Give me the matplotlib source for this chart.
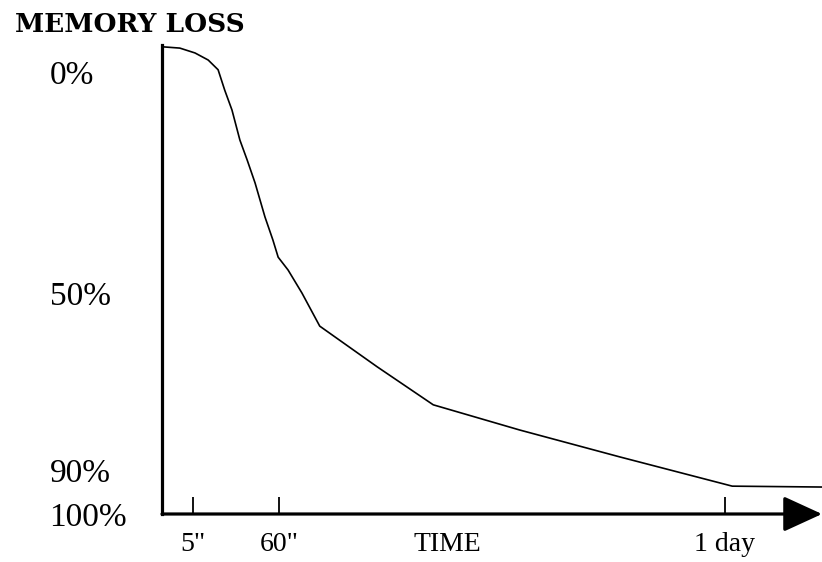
import matplotlib
matplotlib.use("Agg")
import matplotlib.pyplot as plt

# forgetting curve (x: 0-100 along the time axis, y: % loss)
time_pos = [0, 2.7, 5.0, 7.0, 8.5, 9.5, 10.6, 11.8, 12.9, 14.1, 15.6, 16.8,
            17.6, 19.1, 21.2, 23.9, 32.6, 41.1, 54.2, 69.4, 86.4, 100]
loss_pct = [-5.7, -5.4, -4.3, -2.7, -0.5, 4.1, 8.6, 15.4, 19.9, 25.1, 32.8,
            38.0, 41.9, 44.8, 50.0, 57.5, 66.7, 75.3, 81.0, 87.1, 93.7, 93.9]

y_ticks = [0, 50, 90, 100]
y_labels = ["0%", "50%", "90%", "100%"]
x_ticks = [4.7, 17.7, 85.3]
x_labels = ['5"', '60"', "1 day"]
x_title_pos = 43.2

W, H = 822, 562
fig = plt.figure(figsize=(W / 100, H / 100), dpi=100)
ax = fig.add_axes([162 / W, (H - 514) / H, (W - 162) / W, (514 - 45) / H])

ax.plot(time_pos, loss_pct, color="black", lw=1.2, clip_on=False)
ax.set_xlim(0, 100)
ax.set_ylim(100, -6.1)

for side in ["top", "right", "bottom"]:
    ax.spines[side].set_visible(False)
ax.spines["left"].set_linewidth(2.3)

# x axis with arrow head
ax.annotate("", xy=(1.0, 0), xytext=(0, 0), xycoords="axes fraction",
            arrowprops=dict(arrowstyle="-|>,head_length=1.2,head_width=0.55",
                            mutation_scale=20, lw=2.3, color="black",
                            shrinkA=0, shrinkB=0),
            annotation_clip=False)

y_font = dict(family="Liberation Serif", size=24)
x_font = dict(family="Liberation Serif", size=20)

ax.set_yticks(y_ticks)
ax.set_yticklabels(y_labels, fontdict=y_font)
ax.tick_params(axis="y", length=0, pad=81)
for t in ax.get_yticklabels():
    t.set_ha("left")
    t.set_va("center_baseline")

ax.set_xticks(x_ticks)
ax.set_xticklabels(x_labels, fontdict=x_font)
ax.tick_params(axis="x", direction="in", length=12, width=1.3, pad=22)
for t in ax.get_xticklabels():
    t.set_va("center")

ax.text(x_title_pos, 107.0, "TIME", ha="center", va="center",
        fontdict=dict(family="Liberation Serif", size=20))

fig.text(15 / W, 1 - 25 / H, "MEMORY LOSS", ha="left", va="center",
         family="DejaVu Serif", weight="bold", size=19)

fig.savefig("out.png", dpi=100)
